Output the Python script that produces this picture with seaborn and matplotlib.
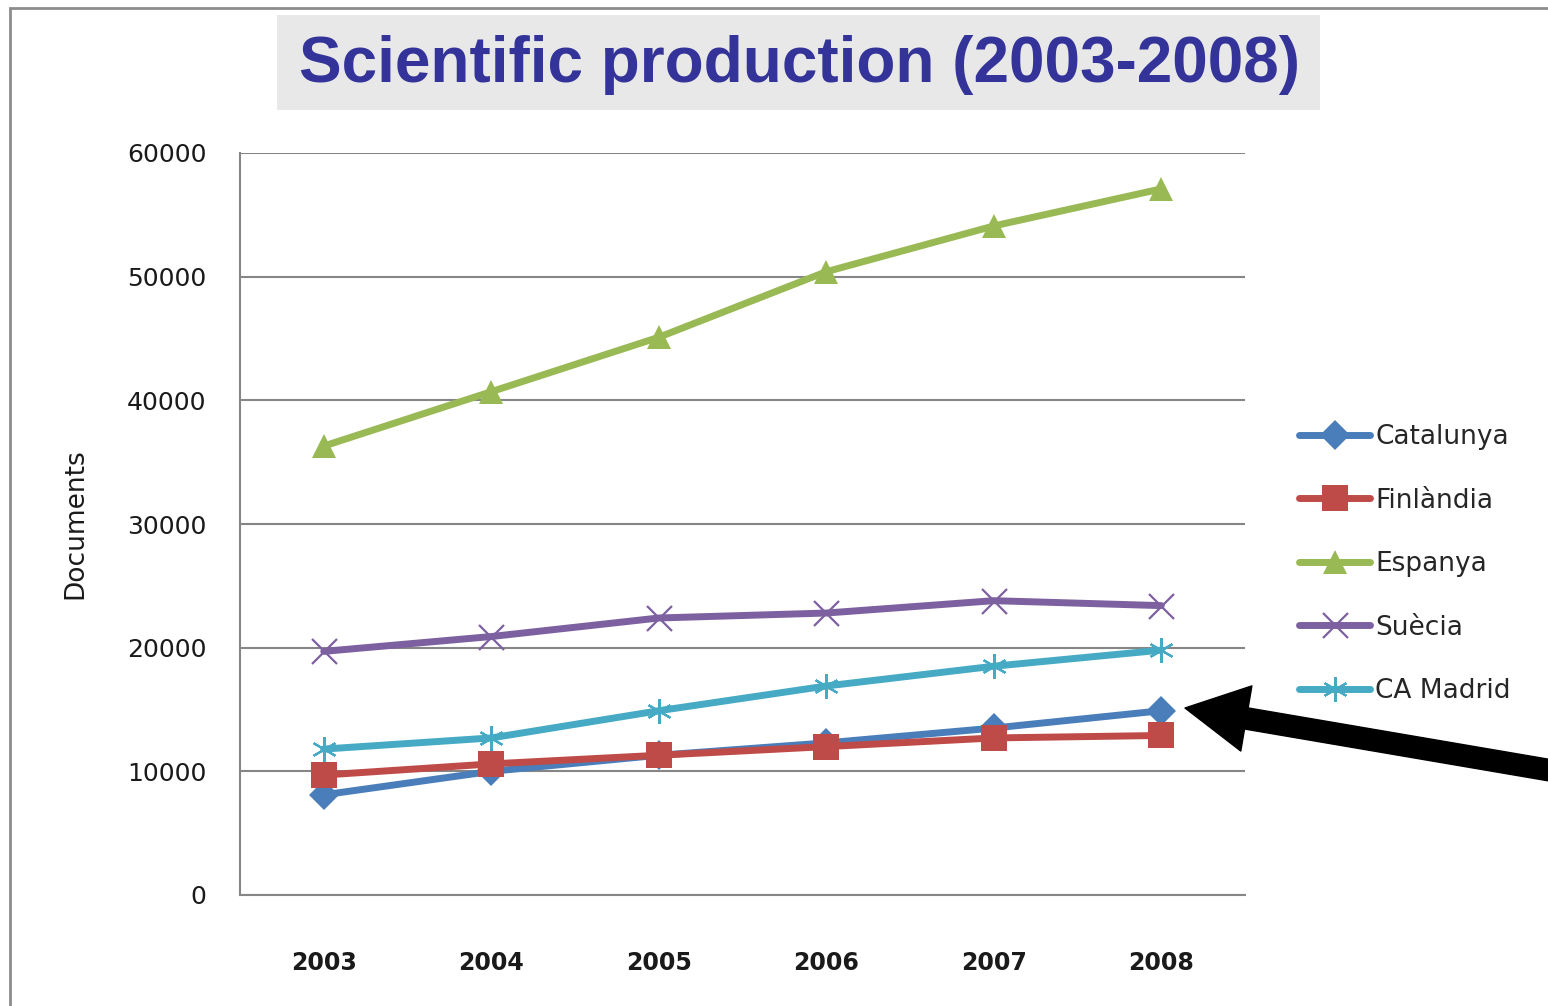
import matplotlib
matplotlib.use("Agg")
import matplotlib.pyplot as plt
import seaborn as sns
import pandas as pd
from matplotlib.patches import Rectangle
from matplotlib import font_manager as fm

## Data
years = ['2003', '2004', '2005', '2006', '2007', '2008']
catalunya = [8100, 10000, 11300, 12300, 13500, 14900]
finlandia = [9700, 10600, 11300, 12000, 12700, 12900]
espanya = [36300, 40700, 45100, 50400, 54100, 57100]
suecia = [19700, 20900, 22400, 22800, 23800, 23400]
madrid = [11800, 12700, 14900, 16900, 18500, 19800]

series_names = ['Catalunya', 'Finlàndia', 'Espanya', 'Suècia', 'CA Madrid']
series_values = [catalunya, finlandia, espanya, suecia, madrid]
colors = ['#4a7ebb', '#be4b48', '#98b954', '#7d60a0', '#46aac5']
markers = ['D', 's', '^', 'x', (6, 2, 0)]
msizes = [15, 19, 17, 18, 18]

df = pd.DataFrame({'Year': years * len(series_names),
                   'Documents': sum(series_values, []),
                   'Country': [n for n in series_names for _ in years]})

sns.set_style('white')
plt.rcParams['font.family'] = ['DejaVu Sans']

# Liberation Sans Bold for the title
title_font = None
for f in fm.fontManager.ttflist:
    if (f.name == 'Liberation Sans' and f.weight in (700, 'bold') and f.style == 'normal'
            and 'narrow' not in f.fname.lower()):
        title_font = fm.FontProperties(fname=f.fname)
        break
if title_font is None:
    title_font = fm.FontProperties(family='DejaVu Sans', weight='bold')
title_font.set_size(46)

fig = plt.figure(figsize=(15.48, 10.06), dpi=100)
W, H = 1548, 1006

# frame around the whole picture
fig.patches.append(Rectangle((10 / W, -0.1), 1.2, 1 - 8 / H + 0.1, transform=fig.transFigure,
                             fill=False, edgecolor='#8c8c8c', lw=2))
# title box
fig.patches.append(Rectangle((277 / W, 1 - 110 / H), (1320 - 277) / W, 95 / H,
                             transform=fig.transFigure, facecolor='#e8e8e8', edgecolor='none'))
fig.text(800 / W, 1 - 65 / H, 'Scientific production (2003-2008)', ha='center', va='center',
         fontproperties=title_font, color='#333399')

ax = fig.add_axes([240 / W, 1 - 895 / H, (1245 - 240) / W, (895 - 153) / H])

for name, col, mk, ms in zip(series_names, colors, markers, msizes):
    sub = df[df['Country'] == name]
    mew = 1.6 if mk == 'x' or isinstance(mk, tuple) else 0
    sns.lineplot(data=sub, x='Year', y='Documents', ax=ax, color=col, lw=5,
                 marker=mk, markersize=ms, markeredgewidth=mew, markeredgecolor=col,
                 label=name, sort=False)

ax.set_xlim(-0.5, 5.5)
ax.set_ylim(0, 60000)
ax.set_yticks(range(0, 60001, 10000))
ax.yaxis.grid(True, color='#868686', lw=1.5)
ax.set_axisbelow(True)
for s in ['top', 'right']:
    ax.spines[s].set_visible(False)
for s in ['left', 'bottom']:
    ax.spines[s].set_color('#868686')
    ax.spines[s].set_linewidth(1.5)
ax.tick_params(length=0, colors='#1a1a1a')
ax.tick_params(axis='x', pad=40, labelsize=17)
ax.tick_params(axis='y', pad=24, labelsize=18)
for lab in ax.get_xticklabels():
    lab.set_fontweight('bold')
ax.set_xlabel('')
ax.set_ylabel('Documents', fontsize=19, labelpad=28, color='#1a1a1a')

leg = ax.legend(loc='center left', bbox_to_anchor=(1.03, 0.446), frameon=False,
                fontsize=19, handlelength=2.7, handletextpad=0.2, labelspacing=1.42)

# arrow pointing at Catalunya 2008
ax.annotate('', xy=(1185, H - 708), xycoords='figure pixels',
            xytext=(1560, H - 772), textcoords='figure pixels',
            arrowprops=dict(arrowstyle='simple,head_length=1.6,head_width=1.7,tail_width=0.55',
                            color='black', mutation_scale=28, shrinkA=0, shrinkB=0),
            annotation_clip=False)

fig.savefig('out.png', dpi=100)
